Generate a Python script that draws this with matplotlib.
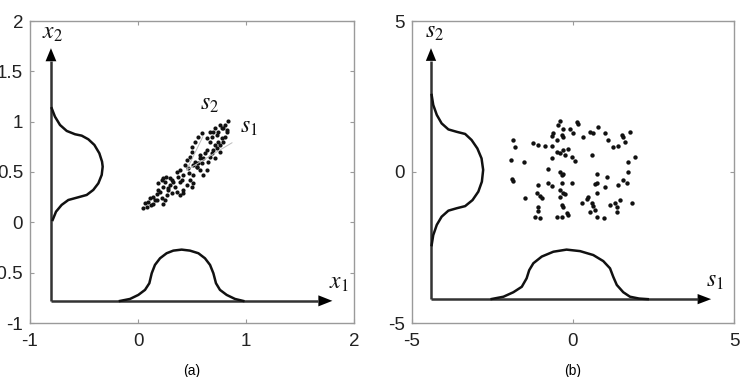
import matplotlib

matplotlib.use("Agg")
import matplotlib.pyplot as plt

plt.rcParams["axes.unicode_minus"] = False
plt.rcParams["mathtext.fontset"] = "stix"
plt.rcParams["font.family"] = ["Liberation Sans", "DejaVu Sans"]

# --- panel (a): mixed signals x1, x2 --------------------------------------------
a_x_lim = (-1, 2)
a_y_lim = (-1, 2)
a_xticks = [-1, 0, 1, 2]
a_yticks = [-1, -0.5, 0, 0.5, 1, 1.5, 2]
a_origin = (-0.806, -0.78)
a_arrow_tip = (1.80, 1.73)

# marginal density of x1 (along the bottom axis)
a_bx = [-0.167, -0.074, 0.003, 0.065, 0.105, 0.127, 0.157, 0.204, 0.265, 0.327, 0.404,
        0.481, 0.559, 0.620, 0.667, 0.698, 0.722, 0.759, 0.821, 0.898, 0.975]
a_by = [-0.781, -0.761, -0.721, -0.671, -0.605, -0.506, -0.423, -0.357, -0.307, -0.281, -0.271,
        -0.281, -0.307, -0.357, -0.423, -0.506, -0.605, -0.671, -0.721, -0.761, -0.781]

# marginal density of x2 (along the left axis)
a_lx = [-0.799, -0.769, -0.722, -0.660, -0.583, -0.521, -0.460, -0.404, -0.358, -0.333, -0.327,
        -0.336, -0.367, -0.414, -0.475, -0.553, -0.645, -0.707, -0.759, -0.790]
a_ly = [1.133, 1.050, 0.967, 0.908, 0.875, 0.861, 0.825, 0.769, 0.686, 0.603, 0.553,
        0.471, 0.388, 0.322, 0.272, 0.249, 0.222, 0.173, 0.106, 0.024]

# scatter of the mixtures
a_px = [0.043, 0.065, 0.096, 0.117, 0.142, 0.157, 0.136, 0.173, 0.188, 0.204, 0.219, 0.235,
        0.250, 0.265, 0.281, 0.188, 0.219, 0.235, 0.259, 0.250, 0.296, 0.312, 0.327, 0.296,
        0.281, 0.343, 0.358, 0.373, 0.389, 0.404, 0.420, 0.389, 0.420, 0.451, 0.481, 0.497,
        0.512, 0.475, 0.435, 0.451, 0.481, 0.497, 0.512, 0.528, 0.543, 0.559, 0.574, 0.543,
        0.574, 0.590, 0.605, 0.620, 0.636, 0.651, 0.667, 0.682, 0.698, 0.713, 0.728, 0.744,
        0.759, 0.775, 0.790, 0.806, 0.821, 0.836, 0.806, 0.775, 0.744, 0.728, 0.698, 0.682,
        0.667, 0.636, 0.590, 0.559, 0.528, 0.497, 0.667, 0.713, 0.759, 0.790, 0.821, 0.713,
        0.636, 0.605, 0.466, 0.358, 0.312, 0.235, 0.173, 0.111, 0.080, 0.389, 0.420, 0.512,
        0.574, 0.759]
a_py = [0.146, 0.189, 0.205, 0.172, 0.182, 0.222, 0.255, 0.281, 0.321, 0.305, 0.238, 0.182,
        0.222, 0.271, 0.321, 0.387, 0.420, 0.437, 0.447, 0.404, 0.437, 0.420, 0.404, 0.371,
        0.338, 0.354, 0.504, 0.454, 0.404, 0.420, 0.470, 0.272, 0.321, 0.371, 0.420, 0.348,
        0.387, 0.487, 0.570, 0.620, 0.653, 0.702, 0.570, 0.603, 0.553, 0.586, 0.636, 0.553,
        0.520, 0.586, 0.636, 0.686, 0.719, 0.603, 0.653, 0.686, 0.719, 0.768, 0.735, 0.802,
        0.768, 0.834, 0.801, 0.851, 0.901, 1.007, 0.967, 0.934, 0.901, 0.868, 0.901, 0.851,
        0.801, 0.834, 0.884, 0.851, 0.801, 0.752, 0.901, 0.934, 0.967, 0.934, 0.917, 0.636,
        0.520, 0.470, 0.537, 0.304, 0.288, 0.354, 0.222, 0.238, 0.156, 0.520, 0.288, 0.470,
        0.669, 0.702]

# principal directions drawn faintly through the cloud
a_s_center = (0.45, 0.52)
a_s1_end = (0.87, 0.79)
a_s2_end = (0.60, 0.85)

# --- panel (b): sources s1, s2 --------------------------------------------------
b_x_lim = (-5, 5)
b_y_lim = (-5, 5)
b_xticks = [-5, 0, 5]
b_yticks = [-5, 0, 5]
b_origin = (-4.41, -4.21)
b_arrow_tip = (4.29, 4.10)

b_bx = [-2.525, -2.16, -1.85, -1.59, -1.44, -1.36, -1.23, -0.97, -0.61, -0.20, 0.22, 0.63,
        0.94, 1.15, 1.25, 1.36, 1.56, 1.77, 2.05, 2.32]
b_by = [-4.205, -4.13, -3.98, -3.80, -3.52, -3.25, -3.02, -2.80, -2.64, -2.57, -2.62, -2.75,
        -2.95, -3.19, -3.47, -3.74, -3.98, -4.13, -4.19, -4.21]

b_lx = [-4.39, -4.34, -4.23, -4.08, -3.87, -3.61, -3.35, -3.15, -2.97, -2.84, -2.79, -2.83,
        -2.94, -3.12, -3.35, -3.61, -3.87, -4.08, -4.23, -4.34, -4.39]
b_ly = [2.55, 2.22, 1.89, 1.61, 1.41, 1.33, 1.26, 1.06, 0.78, 0.45, 0.07, -0.32,
        -0.65, -0.93, -1.13, -1.20, -1.28, -1.48, -1.75, -2.09, -2.42]

b_pts = [
    (240, 62), (233, 75), (290, 65), (295, 72), (250, 88), (270, 88), (220, 100), (215, 107),
    (245, 105), (250, 110), (280, 100), (230, 120), (310, 110), (330, 95), (355, 80), (340, 100),
    (375, 100), (385, 120), (400, 140), (425, 105), (430, 112), (435, 125), (450, 95), (100, 120),
    (105, 140), (160, 130), (175, 135), (195, 137), (215, 138), (230, 155), (240, 160), (250, 150),
    (265, 148), (255, 165), (275, 170), (285, 182), (215, 175), (335, 165), (415, 137), (445, 185),
    (465, 172), (93, 180), (133, 185), (205, 208), (240, 215), (245, 225), (250, 222), (275, 250),
    (445, 215), (95, 238), (100, 243), (175, 255), (205, 250), (215, 258), (245, 250), (240, 270),
    (250, 280), (255, 283), (350, 222), (380, 230), (350, 250), (375, 262), (415, 255), (430, 240),
    (440, 250), (345, 252), (350, 280), (325, 290), (135, 293), (170, 280), (185, 295), (180, 288),
    (240, 290), (305, 310), (320, 298), (335, 310), (340, 318), (345, 330), (390, 315), (405, 310),
    (410, 320), (420, 300), (455, 310), (175, 320), (175, 333), (245, 315), (250, 320), (260, 340),
    (265, 345), (230, 350), (245, 352), (165, 350), (180, 355), (352, 352), (372, 355), (410, 335),
    (330, 335),
]
# positions above were read in a 3x crop of the panel; convert to data units
b_px = [round((zx / 3 - 93) / 32.2, 2) for zx, _ in b_pts]
b_py = [round((72 - zy / 3) / 30.2, 2) for _, zy in b_pts]

FRAME = "#9a9a9a"
INK = "#111111"


def style_axes(ax, xlim, ylim, xticks, yticks, label):
    ax.set_xlim(*xlim)
    ax.set_ylim(*ylim)
    ax.set_xticks(xticks)
    ax.set_yticks(yticks)
    ax.set_yticklabels([f"{t:g}" for t in yticks])
    ax.tick_params(direction="in", top=True, right=True, length=3, width=0.8,
                   color=FRAME, labelsize=13.5, labelcolor="#222222")
    ax.tick_params(axis="x", pad=7)
    ax.tick_params(axis="y", pad=5)
    for s in ax.spines.values():
        s.set_color(FRAME)
        s.set_linewidth(1.0)
    ax.set_xlabel(label, fontsize=10, labelpad=10)


def draw_axes_arrows(ax, origin, tip, hw, hl_x, hl_y):
    ox, oy = origin
    tx, ty = tip
    ax.plot([ox, tx - hl_x], [oy, oy], color="#333333", lw=1.8, solid_capstyle="butt")
    ax.plot([ox, ox], [oy, ty - hl_y], color="#333333", lw=1.8, solid_capstyle="butt")
    ax.fill([tx - hl_x, tx, tx - hl_x], [oy - hw[1], oy, oy + hw[1]], color="black", lw=0)
    ax.fill([ox - hw[0], ox, ox + hw[0]], [ty - hl_y, ty, ty - hl_y], color="black", lw=0)


fig = plt.figure(figsize=(7.42, 3.77), dpi=100)
ax_a = fig.add_axes([30 / 742, 1 - 323 / 377, 324 / 742, 302 / 377])
ax_b = fig.add_axes([412 / 742, 1 - 323 / 377, 322 / 742, 302 / 377])

# panel (a)
style_axes(ax_a, a_x_lim, a_y_lim, a_xticks, a_yticks, "(a)")
draw_axes_arrows(ax_a, a_origin, a_arrow_tip, (0.05, 0.055), 0.13, 0.13)
ax_a.plot(a_bx, a_by, color=INK, lw=1.8, solid_joinstyle="round")
ax_a.plot(a_lx, a_ly, color=INK, lw=1.8, solid_joinstyle="round")
ax_a.plot([a_s_center[0], a_s1_end[0]], [a_s_center[1], a_s1_end[1]], color="#bbbbbb", lw=0.7)
ax_a.plot([a_s_center[0], a_s2_end[0]], [a_s_center[1], a_s2_end[1]], color="#bbbbbb", lw=0.7)
ax_a.scatter(a_px, a_py, s=9, color=INK, lw=0)
ax_a.text(-0.79, 1.88, "$x_2$", fontsize=17, ha="center", va="center", color=INK)
ax_a.text(1.86, -0.60, "$x_1$", fontsize=17, ha="center", va="center", color=INK)
ax_a.text(0.66, 1.18, "$s_2$", fontsize=17, ha="center", va="center", color=INK)
ax_a.text(1.03, 0.95, "$s_1$", fontsize=17, ha="center", va="center", color=INK)

# panel (b)
style_axes(ax_b, b_x_lim, b_y_lim, b_xticks, b_yticks, "(b)")
draw_axes_arrows(ax_b, b_origin, b_arrow_tip, (0.16, 0.17), 0.42, 0.42)
ax_b.plot(b_bx, b_by, color=INK, lw=1.8, solid_joinstyle="round")
ax_b.plot(b_lx, b_ly, color=INK, lw=1.8, solid_joinstyle="round")
ax_b.scatter(b_px, b_py, s=10, color=INK, lw=0)
ax_b.text(-4.30, 4.62, "$s_2$", fontsize=17, ha="center", va="center", color=INK)
ax_b.text(4.40, -3.62, "$s_1$", fontsize=17, ha="center", va="center", color=INK)

fig.savefig("out.png", dpi=100)
